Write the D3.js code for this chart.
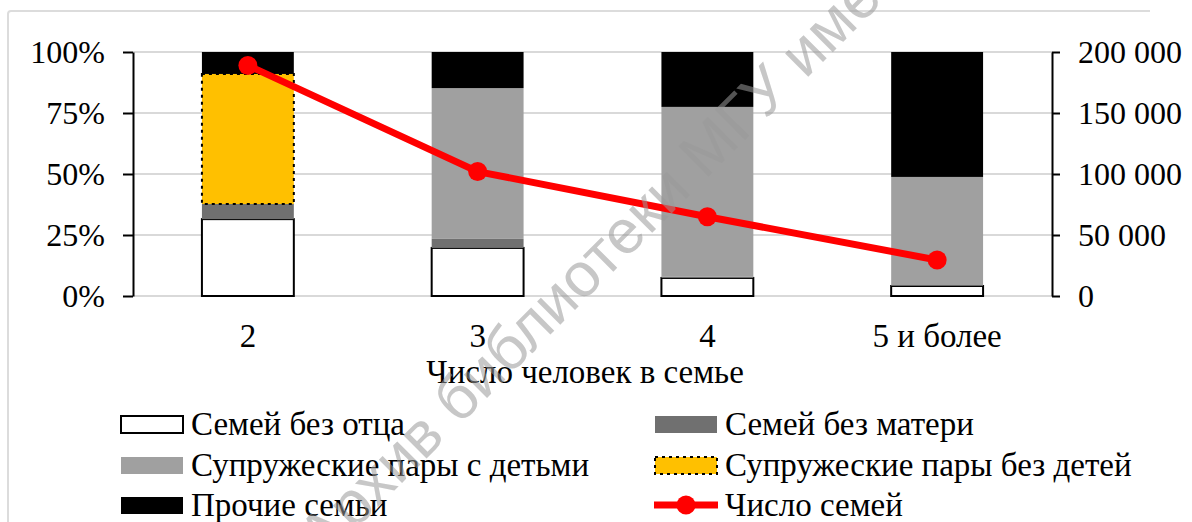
<!DOCTYPE html>
<html>
<head>
<meta charset="utf-8">
<script src="https://cdn.jsdelivr.net/npm/d3@7"></script>
<style>
  html, body { margin: 0; padding: 0; background: #fff; overflow: hidden; }
  svg { display: block; font-family: "Liberation Serif", "Times New Roman", serif; }
</style>
</head>
<body>
<div id="chart"></div>
<script>
// Data (shares in %, families in units)
const categories = ["2", "3", "4", "5 и более"];
const withoutFather = [31.5, 19.7, 7.4, 4.1];
const withoutMother = [6.2, 3.7, 0.5, 0.3];
const couplesWithChildren = [0, 61.8, 69.6, 44.4];
const couplesNoChildren = [53.3, 0, 0, 0];
const otherFamilies = [9.0, 14.8, 22.5, 51.2];
const familyCount = [189000, 102000, 65000, 29500];

const leftTicks = [0, 0.25, 0.5, 0.75, 1];
const rightTicks = [0, 50000, 100000, 150000, 200000];

const seriesNames = {
  father: "Семей без отца",
  mother: "Семей без матери",
  withKids: "Супружеские пары с детьми",
  noKids: "Супружеские пары без детей",
  other: "Прочие семьи",
  count: "Число семей"
};
const axisTitle = "Число человек в семье";
const watermark = "Архив библиотеки МГУ имени А.А. Кулешова";


/*******************************/
/*    Declare the constants    */
/*******************************/
const width = 1192;
const height = 522;
const margin = {top: 52, right: 140, bottom: 226, left: 133};
const innerWidth = width - margin.left - margin.right;
const innerHeight = height - margin.top - margin.bottom;

const keys = ["father", "mother", "withKids", "noKids", "other"];
const colors = {
  father: "#ffffff",
  mother: "#707070",
  withKids: "#a0a0a0",
  noKids: "#ffc000",
  other: "#000000"
};

const rows = categories.map((c, i) => ({
  category: c,
  father: withoutFather[i],
  mother: withoutMother[i],
  withKids: couplesWithChildren[i],
  noKids: couplesNoChildren[i],
  other: otherFamilies[i],
  count: familyCount[i]
}));


/*******************************/
/*    Append the containers    */
/*******************************/
const svg = d3.select("#chart")
  .append("svg")
    .attr("width", width)
    .attr("height", height)
    .attr("viewBox", `0 0 ${width} ${height}`);

// light chart-area border, cut at the bottom like the scan
svg
  .append("path")
    .attr("d", "M8,522 L8,14 Q8,11 11,11 L1150,11")
    .attr("fill", "none")
    .attr("stroke", "#dcdcdc")
    .attr("stroke-width", 2);

const innerChart = svg
  .append("g")
    .attr("transform", `translate(${margin.left}, ${margin.top})`);


/****************************/
/*    Declare the scales    */
/****************************/
const xScale = d3.scaleBand()
  .domain(categories)
  .range([0, innerWidth])
  .paddingInner(0.6)
  .paddingOuter(0.3);

const yScale = d3.scaleLinear()
  .domain([0, 1])
  .range([innerHeight, 0]);

const yRight = d3.scaleLinear()
  .domain([0, 200000])
  .range([innerHeight, 0]);


/**************************/
/*      Gridlines         */
/**************************/
innerChart
  .selectAll(".grid")
  .data(leftTicks)
  .join("line")
    .attr("class", "grid")
    .attr("x1", 0)
    .attr("x2", innerWidth)
    .attr("y1", d => yScale(d))
    .attr("y2", d => yScale(d))
    .attr("stroke", "#d9d9d9")
    .attr("stroke-width", 2);


/**************************/
/*    Append the bars     */
/**************************/
const stacked = d3.stack().keys(keys).value((d, k) => d[k] / 100)(rows);

stacked.forEach(layer => {
  const key = layer.key;
  innerChart
    .append("g")
    .selectAll("rect")
    .data(layer.filter(d => d[1] - d[0] > 0))
    .join("rect")
      .attr("x", d => xScale(d.data.category))
      .attr("y", d => yScale(d[1]))
      .attr("width", xScale.bandwidth())
      .attr("height", d => yScale(d[0]) - yScale(d[1]))
      .attr("fill", colors[key])
      .attr("stroke", key === "father" || key === "noKids" ? "#000" : "none")
      .attr("stroke-width", 2)
      .attr("stroke-dasharray", key === "noKids" ? "3,4" : null);
});


/**************************/
/*      Add the axes      */
/**************************/
const leftAxis = d3.axisLeft(yScale)
  .tickValues(leftTicks)
  .tickFormat(d3.format(".0%"))
  .tickSize(10)
  .tickSizeOuter(0)
  .tickPadding(18);
const leftG = innerChart.append("g").call(leftAxis);

const ruLocale = d3.formatLocale({decimal: ",", thousands: " ", grouping: [3], currency: ["", ""]});
const rightAxis = d3.axisRight(yRight)
  .tickValues(rightTicks)
  .tickFormat(ruLocale.format(","))
  .tickSize(8)
  .tickSizeOuter(0)
  .tickPadding(18);
const rightG = innerChart
  .append("g")
    .attr("transform", `translate(${innerWidth}, 0)`)
    .call(rightAxis);

const bottomAxis = d3.axisBottom(xScale)
  .tickSize(0)
  .tickPadding(28);
const bottomG = innerChart
  .append("g")
    .attr("transform", `translate(0, ${innerHeight})`)
    .call(bottomAxis);
bottomG.select(".domain").remove();

[leftG, rightG, bottomG].forEach(g => {
  g.selectAll(".domain, .tick line").attr("stroke", "#000").attr("stroke-width", 2);
  g.selectAll("text")
    .attr("font-family", "Liberation Serif, Times New Roman, serif")
    .attr("font-size", 32)
    .attr("fill", "#000");
});
bottomG.selectAll("text").attr("font-size", 33);

svg
  .append("text")
    .text(axisTitle)
    .attr("x", 585)
    .attr("y", 383)
    .attr("text-anchor", "middle")
    .attr("font-size", 33);


/**************************/
/*    Line of families    */
/**************************/
const xMid = d => xScale(d) + xScale.bandwidth() / 2;
const line = d3.line()
  .x(d => xMid(d.category))
  .y(d => yRight(d.count));

innerChart
  .append("path")
    .attr("d", line(rows))
    .attr("fill", "none")
    .attr("stroke", "#ff0000")
    .attr("stroke-width", 7)
    .attr("stroke-linejoin", "round");

innerChart
  .selectAll(".dot")
  .data(rows)
  .join("circle")
    .attr("class", "dot")
    .attr("cx", d => xMid(d.category))
    .attr("cy", d => yRight(d.count))
    .attr("r", 9.5)
    .attr("fill", "#ff0000");


/**************************/
/*       The legend       */
/**************************/
const legendItems = [
  {key: "father", col: 0, row: 0},
  {key: "mother", col: 1, row: 0},
  {key: "withKids", col: 0, row: 1},
  {key: "noKids", col: 1, row: 1},
  {key: "other", col: 0, row: 2},
  {key: "count", col: 1, row: 2}
];
const legendX = [120, 654];
const legendY = [424, 465, 505];
const swatchW = 64;

const legend = svg
  .selectAll(".legend-item")
  .data(legendItems)
  .join("g")
    .attr("class", "legend-item")
    .attr("transform", d => `translate(${legendX[d.col]}, ${legendY[d.row]})`);

legend.each(function(d) {
  const g = d3.select(this);
  if (d.key === "count") {
    g.append("line")
      .attr("x1", 0).attr("x2", swatchW)
      .attr("y1", 0).attr("y2", 0)
      .attr("stroke", "#ff0000")
      .attr("stroke-width", 7);
    g.append("circle")
      .attr("cx", swatchW / 2).attr("cy", 0).attr("r", 9.5)
      .attr("fill", "#ff0000");
  } else {
    g.append("rect")
      .attr("x", 1).attr("y", -8)
      .attr("width", swatchW - 2).attr("height", 17)
      .attr("fill", colors[d.key])
      .attr("stroke", d.key === "father" || d.key === "noKids" ? "#000" : "none")
      .attr("stroke-width", 2)
      .attr("stroke-dasharray", d.key === "noKids" ? "3,4" : null);
  }
  g.append("text")
    .text(seriesNames[d.key])
    .attr("x", swatchW + 7)
    .attr("y", 11)
    .attr("font-size", 33);
});


/**************************/
/*       Watermark        */
/**************************/
svg
  .append("text")
    .text(watermark)
    .attr("transform", "translate(324, 561) rotate(-45)")
    .attr("font-family", "Liberation Sans, Arial, sans-serif")
    .attr("font-size", 62)
    .attr("fill", "#999999")
    .attr("fill-opacity", 0.55);
</script>
</body>
</html>
